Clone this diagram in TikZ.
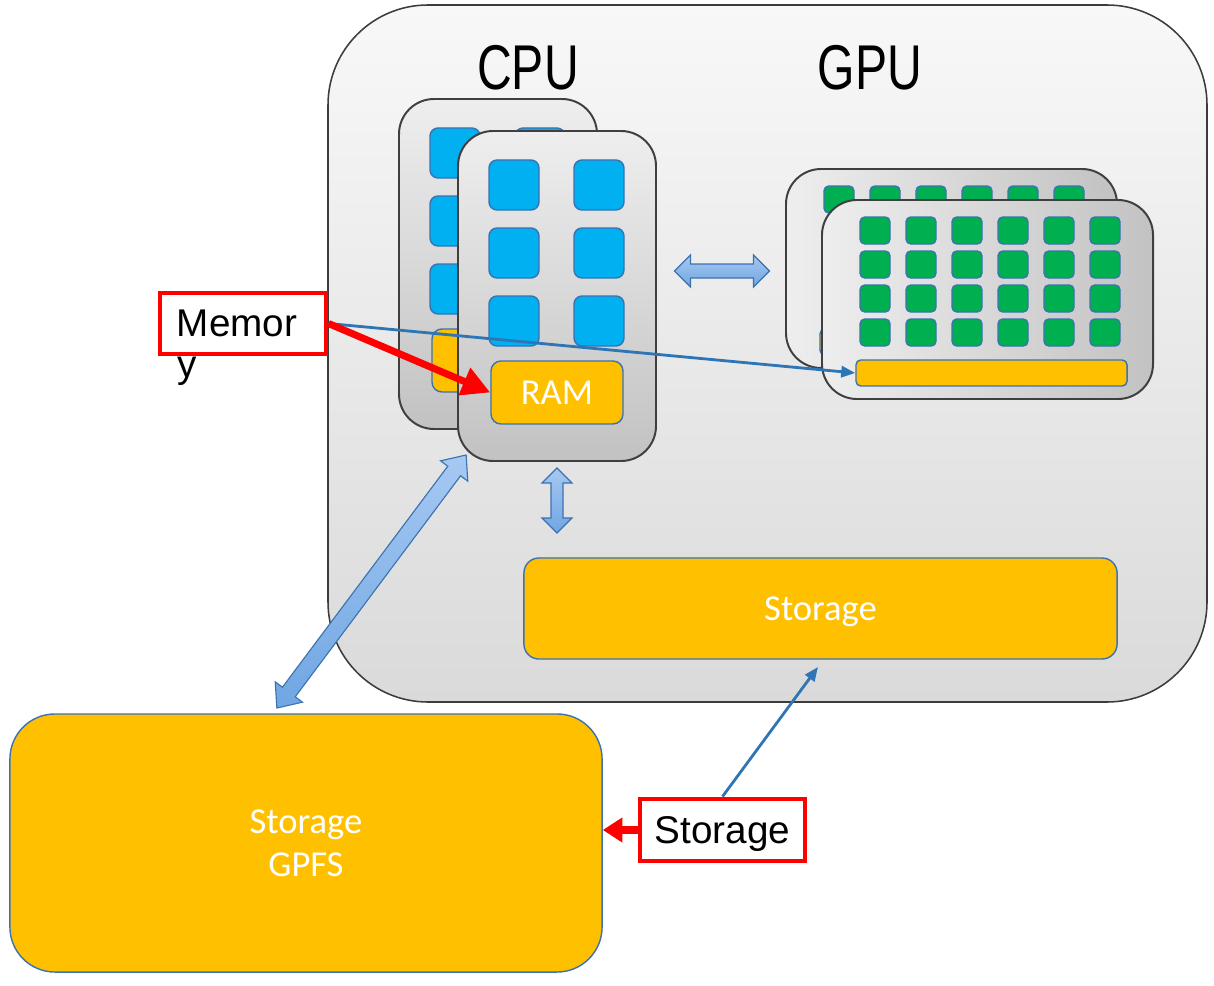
\documentclass[tikz,border=0pt]{standalone}
\usepackage{fontspec}
\usepackage{graphicx}
\setmainfont{Liberation Sans}
\newfontfamily\cali{Carlito}
\usetikzlibrary{arrows.meta}
\definecolor{boxline}{HTML}{3C3C3C}
\definecolor{boxtop}{HTML}{F8F8F8}
\definecolor{boxbot}{HTML}{DADADA}
\definecolor{cardline}{HTML}{3F3F3F}
\definecolor{cardlt}{HTML}{EEEEEE}
\definecolor{carddk}{HTML}{C2C2C2}
\definecolor{coreline}{HTML}{3A72B2}
\definecolor{cpublue}{HTML}{00B0F0}
\definecolor{gpugreen}{HTML}{00B050}
\definecolor{orng}{HTML}{FFC000}
\definecolor{arrline}{HTML}{3D72B0}
\definecolor{arrlt}{HTML}{A6C9F2}
\definecolor{arrdk}{HTML}{70A6E2}
\definecolor{lineblue}{HTML}{2E75B6}
\begin{document}
\begin{tikzpicture}[x=0.025cm, y=-0.025cm,
 box/.style={draw=boxline, line width=1.1pt, rounded corners=2.5cm, top color=boxtop, bottom color=boxbot},
 ccard/.style={draw=cardline, line width=1.4pt, rounded corners=0.875cm, top color=cardlt, bottom color=carddk},
 gcard/.style={draw=cardline, line width=1.4pt, rounded corners=0.875cm, left color=cardlt, right color=carddk},
 core/.style={draw=coreline, line width=1pt, fill=cpublue, rounded corners=0.2cm},
 smx/.style={draw=coreline, line width=1pt, fill=gpugreen, rounded corners=0.12cm},
 disk/.style={draw=coreline, line width=1pt, fill=orng, text=white, text depth=0pt, font=\cali\fontsize{26}{31}\selectfont, align=center},
 barrow/.style={draw=arrline, line width=0.8pt, top color=arrlt, bottom color=arrdk},
 callout/.style={draw=red, line width=3.5pt, fill=white, inner ysep=0pt, font=\fontsize{27.5}{33}\selectfont},
 redarr/.style={red, line width=5pt, -{Triangle[length=20pt,width=20pt]}},
 bluearr/.style={lineblue, line width=2pt, -{Triangle[length=10pt,width=8pt]}}]
 \useasboundingbox (0,0) rectangle (1214,985);
 \draw[box](328,5) rectangle (1207,702);
 \draw[ccard](399,99) rectangle (597,429);
 \foreach \i in {0,1}
  \foreach \j in {0,1,2}
  {
     \draw[core](430+85*\i,128+68*\j) rectangle ++(50,50);
  }
 \draw[disk, rounded corners=0.25cm](432,329) rectangle (564,392);
 \draw[ccard](458,131) rectangle (656,461);
 \foreach \i in {0,1}
  \foreach \j in {0,1,2}
  {
     \draw[core](489+85*\i,160+68*\j) rectangle ++(50,50);
  }
 \node[disk, rounded corners=0.25cm, minimum width=3.3cm, minimum height=1.575cm] (ram) at (557,392.5) {RAM};
 \draw[gcard](786,169) rectangle (1117,368);
 \foreach \i in {0,...,5}
  \foreach \j in {0,...,3}
  {
     \draw[smx](824+46*\i,186+34*\j) rectangle ++(30,27);
  }
 \draw[disk, rounded corners=0.12cm](820,329) rectangle (1091,355);
 \draw[gcard](822,200) rectangle (1153,399);
 \foreach \i in {0,...,5}
  \foreach \j in {0,...,3}
  {
     \draw[smx](860+46*\i,217+34*\j) rectangle ++(30,27);
  }
 \node[disk, rounded corners=0.12cm, minimum width=6.775cm, minimum height=0.65cm] (gbar) at (991.5,373) {};
 \foreach \cx/\cy/\ang/\len/\hl/\hw/\sw in {722/271/0/95/16/16/7, 557/500.5/90/65/15/15/6, 371.5/581.5/53.2/316/20/17/8}
 {
     \begin{scope}[shift={(\cx,\cy)}, rotate=\ang]
     \draw[barrow](-\len/2,0)--(-\len/2+\hl,\hw)--(-\len/2+\hl,\sw)--(\len/2-\hl,\sw)--(\len/2-\hl,\hw)--(\len/2,0)--(\len/2-\hl,-\hw)--(\len/2-\hl,-\sw)--(-\len/2+\hl,-\sw)--(-\len/2+\hl,-\hw)--cycle;
     \end{scope}
 }
 \node[disk, rounded corners=0.375cm, minimum width=14.825cm, minimum height=2.525cm] (disk) at (820.5,608.5) {Storage};
 \node[disk, rounded corners=1.125cm, minimum width=14.8cm, minimum height=6.45cm] (gpfs) at (306,843) {Storage\\GPFS};
 \node[font=\fontsize{45}{54}\selectfont] (cpu) at (528,68) {\scalebox{0.76}[1]{CPU}};
 \node[font=\fontsize{45}{54}\selectfont] (gpu) at (870,68) {\scalebox{0.76}[1]{GPU}};
 \node[callout, text width=3.3cm, inner xsep=0.425cm, minimum height=1.525cm, align=left] (memo) at (243,323.5) {Memor};
 \node[font=\fontsize{27.5}{33}\selectfont, anchor=base west, inner sep=0pt] (memy) at (177,377) {y};
 \node[callout, text depth=0pt, minimum width=4.125cm, minimum height=1.55cm] (stor) at (722.5,830) {Storage};
 \coordinate (dtip) at (818,667);
 \draw[bluearr](memo.east)--(gbar.west);
 \draw[redarr](memo.east)--(ram.west);
 \draw[bluearr](stor.north)--(dtip);
 \draw[red, line width=5pt, -{Triangle[length=14pt,width=17pt]}](stor.west)--(stor.west -| gpfs.east);
\end{tikzpicture}
\end{document}
